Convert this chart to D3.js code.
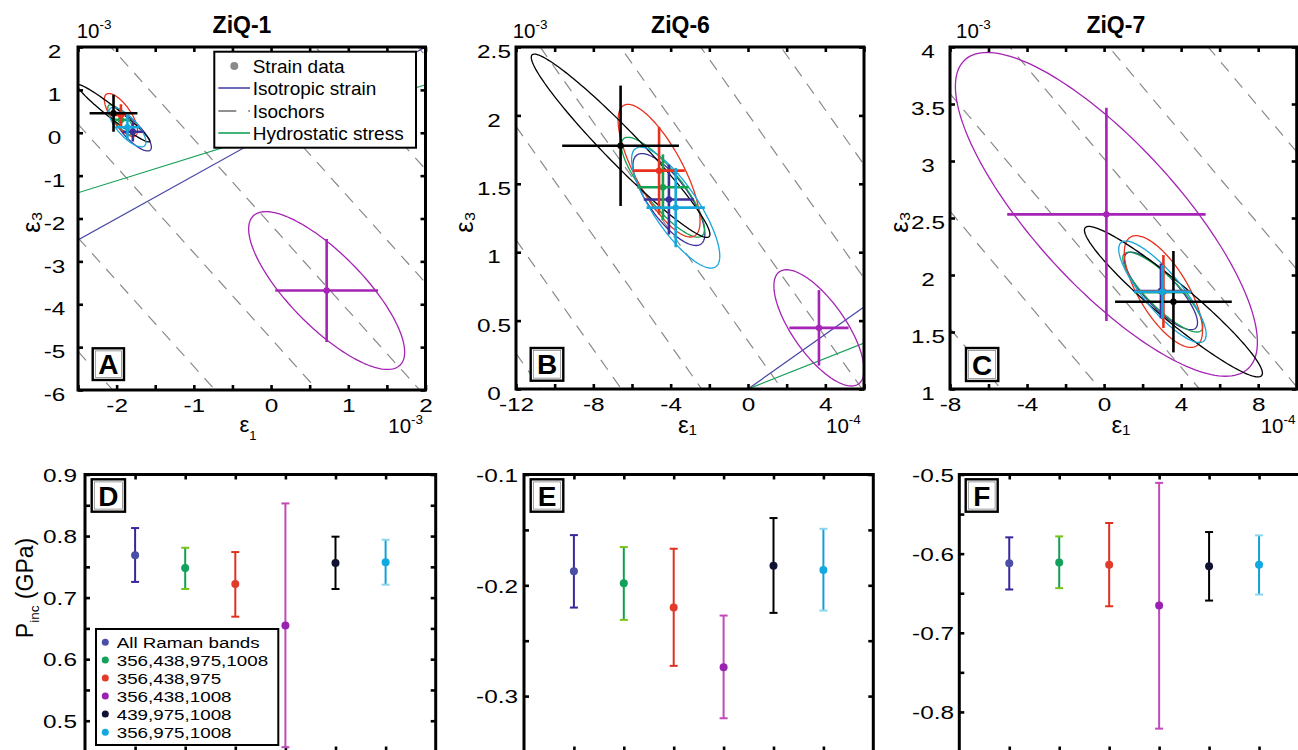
<!DOCTYPE html>
<html><head><meta charset="utf-8">
<script src="https://cdn.jsdelivr.net/npm/d3@7"></script>
<style>
body{margin:0;background:#fff}
svg{display:block}
text{font-family:"Liberation Sans",Arial,Helvetica,sans-serif;fill:#000}
</style>
</head><body>
<svg id="chart" width="1298" height="750"></svg>
<script>
// ===================== DATA =====================
const seriesNames = ["All Raman bands","356,438,975,1008","356,438,975","356,438,1008","439,975,1008","356,975,1008"];
const panelTitles = ["ZiQ-1","ZiQ-6","ZiQ-7"];
const panelLetters = ["A","B","C","D","E","F"];
const legendTopNames = ["Strain data","Isotropic strain","Isochors","Hydrostatic stress"];

// ---- Panel A (eps1 x1e-3, eps3 x1e-3)
const A_e1    = [-1.79, -1.944, -1.944, 0.72, -2.04, -1.86];
const A_e3    = [0.025, 0.30, 0.415, -3.68, 0.455, 0.13];
const A_e1Err = [0.13, 0.12, 0.10, 0.665, 0.31, 0.15];
const A_e3Err = [0.23, 0.20, 0.25, 1.20, 0.43, 0.30];
const A_ellX  = [0.24, 0.17, 0.215, 1.01, 0.47, 0.24];
const A_ellY  = [0.45, 0.35, 0.50, 1.84, 0.67, 0.46];
const A_rho   = [-0.80, -0.80, -0.72, -0.78, -0.97, -0.75];
const A_isochorC = [-10.1, -7.45, -4.8, -2.15, 0.5, 3.15, 5.8];

// ---- Panel B (eps1 x1e-4, eps3 x1e-3)
const B_e1    = [-4.09, -4.40, -4.60, 3.67, -6.59, -3.74];
const B_e3    = [1.385, 1.475, 1.596, 0.447, 1.778, 1.326];
const B_e1Err = [1.30, 1.33, 1.33, 1.53, 3.02, 1.51];
const B_e3Err = [0.255, 0.24, 0.32, 0.276, 0.44, 0.29];
const B_ellX  = [1.86, 2.15, 2.12, 2.33, 4.62, 2.28];
const B_ellY  = [0.336, 0.365, 0.485, 0.425, 0.67, 0.442];
const B_rho   = [-0.75, -0.84, -0.76, -0.72, -0.965, -0.80];
const B_isochorC = [-2.14, -1.31, -0.48, 0.35, 1.18, 2.01, 2.84, 3.67];

// ---- Panel C (eps1 x1e-4, eps3 x1e-3)
const C_e1    = [2.95, 3.05, 3.08, 0.12, 3.60, 3.03];
const C_e3    = [1.86, 1.85, 1.855, 2.532, 1.766, 1.853];
const C_e1Err = [1.40, 1.47, 1.45, 5.15, 3.03, 1.47];
const C_e3Err = [0.24, 0.235, 0.32, 0.936, 0.445, 0.235];
const C_ellX  = [1.90, 2.08, 2.03, 7.84, 4.62, 2.27];
const C_ellY  = [0.34, 0.35, 0.49, 1.42, 0.66, 0.445];
const C_rho   = [-0.82, -0.85, -0.70, -0.79, -0.95, -0.84];
const C_isochorC = [-0.07, 0.96, 1.99, 3.02, 4.05, 5.08];

// guide lines: eps3 = slope * eps1
const isotropicSlope = 1.0;
const hydrostaticSlope = 0.56;

// ---- Bottom panels: P_inc (GPa)
const D_val  = [0.769, 0.748, 0.722, 0.6545, 0.7564, 0.7575];
const D_high = [0.813, 0.781, 0.774, 0.853, 0.799, 0.794];
const D_low  = [0.7255, 0.714, 0.669, 0.457, 0.714, 0.721];
const E_val  = [-0.1874, -0.1982, -0.2201, -0.2739, -0.1823, -0.1862];
const E_high = [-0.1547, -0.1655, -0.1670, -0.2273, -0.1393, -0.1490];
const E_low  = [-0.2201, -0.2312, -0.2727, -0.3200, -0.2249, -0.2228];
const F_val  = [-0.6120, -0.6111, -0.6141, -0.6656, -0.6158, -0.6141];
const F_high = [-0.5794, -0.5782, -0.5613, -0.5106, -0.5727, -0.5769];
const F_low  = [-0.6453, -0.6436, -0.6665, -0.8211, -0.6593, -0.6517];
const categoryIdx = [1,2,3,4,5,6];

// ===================== STYLE =====================
const topColors   = ["#3c2f98","#16a052","#e8321e","#a523b5","#000000","#17a6dc"];
const barColors   = ["#36289a","#12a050","#e03020","#c04ab8","#000000","#12a0d8"];
const capColors   = ["#36289a","#7ac21a","#e03020","#c04ab8","#000000","#8ad6ee"];
const dotColors   = ["#4a4ea6","#12a05a","#e43a2a","#9a22b2","#111133","#12a8e0"];
const FONT_TICK = 19, STRETCH = 1.28;

const svg = d3.select("#chart");
const defs = svg.append("defs");

function stretchText(sel, f){
  sel.each(function(){
    const w = this.getComputedTextLength();
    if (w > 0){ this.setAttribute("textLength", w*f); this.setAttribute("lengthAdjust","spacingAndGlyphs"); }
  });
}
const fmtNum = d => String(+d.toFixed(3));

function drawAxes(g, x, y, o){
  const [x0,x1] = x.range(), [yb,yt] = y.range();
  const mk = (gen, tr) => { const a = g.append("g").attr("transform", tr).call(gen); a.select(".domain").remove(); return a; };
  const bx = mk(d3.axisBottom(x).tickValues(o.xTicks).tickSize(-5).tickFormat(d => o.xLab && o.xLab(d) ? fmtNum(d) : ""), `translate(0,${yb})`);
  mk(d3.axisTop(x).tickValues(o.xTicks).tickSize(-5).tickFormat(()=>""), `translate(0,${yt})`);
  const ly = mk(d3.axisLeft(y).tickValues(o.yTicks).tickSize(-5).tickFormat(d => o.yLab(d) ? fmtNum(d) : ""), `translate(${x0},0)`);
  mk(d3.axisRight(y).tickValues(o.yTicks).tickSize(-5).tickFormat(()=>""), `translate(${x1},0)`);
  g.selectAll(".tick line").attr("stroke","#000").attr("stroke-width",2.6);
  bx.selectAll("text").attr("y", 21.5).attr("dy", 0).attr("text-anchor","middle")
    .style("font-size", FONT_TICK+"px").style("font-family",'"Liberation Sans",Arial,sans-serif').attr("fill","#000");
  ly.selectAll("text").attr("x", -o.yLabOff).attr("dy", 0).attr("y", o.yLabDy).attr("text-anchor","middle")
    .style("font-size", FONT_TICK+"px").style("font-family",'"Liberation Sans",Arial,sans-serif').attr("fill","#000");
  stretchText(bx.selectAll("text"), STRETCH);
  stretchText(ly.selectAll("text"), STRETCH);
  g.append("rect").attr("x",x0).attr("y",yt).attr("width",x1-x0).attr("height",yb-yt)
    .attr("fill","none").attr("stroke","#000").attr("stroke-width",3);
}

function letterBox(g, lx, ly, w, h, letter){
  g.append("rect").attr("x",lx).attr("y",ly).attr("width",w).attr("height",h).attr("fill","#fff").attr("stroke","#000").attr("stroke-width",2.4);
  g.append("rect").attr("x",lx+2.6).attr("y",ly+2.6).attr("width",w-5.2).attr("height",h-5.2).attr("fill","none").attr("stroke","#777").attr("stroke-width",0.7);
  g.append("text").attr("x",lx+w/2).attr("y",ly+h/2+10).attr("text-anchor","middle")
    .style("font-size","28px").style("font-weight","bold").text(letter);
}

function expLabel(g, x, y, base, exp){
  const t = g.append("text").attr("x",x).attr("y",y).style("font-size","20.5px");
  t.append("tspan").text(base);
  t.append("tspan").attr("dy",-9).style("font-size","13.5px").text(exp);
}

// ===================== TOP PANELS =====================
const topPanels = [
  {id:"A", e1:A_e1, e3:A_e3, e1Err:A_e1Err, e3Err:A_e3Err, ellX:A_ellX, ellY:A_ellY, rho:A_rho, iso:A_isochorC,
   xDom:[-2.5,2], yDom:[-6,2], xr:[78,425.5], yr:[390,47], xExp:-3, yExp:-3,
   xTicks:d3.range(-2.5,2.01,0.5), yTicks:d3.range(-6,2.01,1), xLab:d=>Math.abs(d-Math.round(d))<1e-9, yLab:()=>true,
   yLabOff:23.5, title:panelTitles[0], titleX:242, topExp:["10","-3"], topExpX:76.7, botExp:["10","-3"], botExpX:388.3,
   yLabelX:33, xLabelX:248, sub:true, letterBox:[92.7,348.3,31.3,31.7]},
  {id:"B", e1:B_e1, e3:B_e3, e1Err:B_e1Err, e3Err:B_e3Err, ellX:B_ellX, ellY:B_ellY, rho:B_rho, iso:B_isochorC,
   xDom:[-12,6], yDom:[0,2.5], xr:[516,864], yr:[389,47], xExp:-4, yExp:-3,
   xTicks:d3.range(-12,6.01,2), yTicks:d3.range(0,2.51,0.5), xLab:d=>Math.round(d)%4===0, yLab:()=>true,
   yLabOff:22, title:panelTitles[1], titleX:680.5, topExp:["10","-3"], topExpX:512.7, botExp:["10","-4"], botExpX:826,
   yLabelX:466.5, xLabelX:687.5, sub:false, letterBox:[530.7,348,32.6,32.7]},
  {id:"C", e1:C_e1, e3:C_e3, e1Err:C_e1Err, e3Err:C_e3Err, ellX:C_ellX, ellY:C_ellY, rho:C_rho, iso:C_isochorC,
   xDom:[-8,10], yDom:[1,4], xr:[950,1296.7], yr:[389,47], xExp:-4, yExp:-3,
   xTicks:d3.range(-8,10.01,2), yTicks:d3.range(1,4.01,0.5), xLab:d=>Math.round(d)%4===0 && d<10, yLab:()=>true,
   yLabOff:22, title:panelTitles[2], titleX:1115.8, topExp:["10","-3"], topExpX:956, botExp:["10","-4"], botExpX:1260.7,
   yLabelX:901, xLabelX:1121, sub:false, letterBox:[966,348,32.3,33]}
];

topPanels.forEach((p, pi) => {
  const g = svg.append("g");
  const x = d3.scaleLinear().domain(p.xDom).range(p.xr);
  const y = d3.scaleLinear().domain(p.yDom).range(p.yr);
  const clipId = "clip"+p.id;
  defs.append("clipPath").attr("id",clipId).append("rect")
    .attr("x",p.xr[0]).attr("y",p.yr[1]).attr("width",p.xr[1]-p.xr[0]).attr("height",p.yr[0]-p.yr[1]);
  const pg = g.append("g").attr("clip-path",`url(#${clipId})`);
  const f = Math.pow(10, p.xExp - p.yExp);
  const fc = Math.pow(10, p.xExp + 3), fy = Math.pow(10, p.yExp + 3);

  // isochors: 2*eps1 + eps3 = c (units 1e-3)
  p.iso.forEach(c => {
    const pts = p.xDom.map(xv => [xv, (c - 2*xv*fc)/fy]);
    pg.append("line").attr("x1",x(pts[0][0])).attr("y1",y(pts[0][1])).attr("x2",x(pts[1][0])).attr("y2",y(pts[1][1]))
      .attr("stroke","#8a8a8a").attr("stroke-width",1.2).attr("stroke-dasharray","12,9");
  });
  [[isotropicSlope,"#4646a6"],[hydrostaticSlope,"#18a058"]].forEach(([s,col]) => {
    pg.append("line").attr("x1",x(p.xDom[0])).attr("y1",y(s*p.xDom[0]*f)).attr("x2",x(p.xDom[1])).attr("y2",y(s*p.xDom[1]*f))
      .attr("stroke",col).attr("stroke-width",1.2);
  });

  const line = d3.line().x(d=>x(d[0])).y(d=>y(d[1])).curve(d3.curveLinearClosed);
  p.e1.forEach((cx,i) => {
    const cy = p.e3[i], ex = p.ellX[i], ey = p.ellY[i], r = p.rho[i];
    const pts = d3.range(0, 2*Math.PI, Math.PI/90).map(t => [cx + ex*Math.cos(t), cy + ey*(r*Math.cos(t) + Math.sqrt(1-r*r)*Math.sin(t))]);
    pg.append("path").attr("d", line(pts)).attr("fill","none").attr("stroke",topColors[i]).attr("stroke-width",1.3);
  });
  p.e1.forEach((cx,i) => {
    const cy = p.e3[i];
    pg.append("line").attr("x1",x(cx-p.e1Err[i])).attr("x2",x(cx+p.e1Err[i])).attr("y1",y(cy)).attr("y2",y(cy))
      .attr("stroke",topColors[i]).attr("stroke-width",2.6);
    pg.append("line").attr("x1",x(cx)).attr("x2",x(cx)).attr("y1",y(cy-p.e3Err[i])).attr("y2",y(cy+p.e3Err[i]))
      .attr("stroke",topColors[i]).attr("stroke-width",2.6);
    pg.append("circle").attr("cx",x(cx)).attr("cy",y(cy)).attr("r",3.2).attr("fill",topColors[i]);
  });

  drawAxes(g, x, y, {xTicks:p.xTicks, yTicks:p.yTicks, xLab:p.xLab, yLab:p.yLab, yLabOff:p.yLabOff, yLabDy:10.7});
  g.append("text").attr("x",p.titleX).attr("y",33).attr("text-anchor","middle")
    .style("font-size","23px").style("font-weight","bold").text(p.title);
  expLabel(g, p.topExpX, 38.3, p.topExp[0], p.topExp[1]);
  expLabel(g, p.botExpX, 433.3, p.botExp[0], p.botExp[1]);
  g.append("text").attr("transform",`translate(${p.yLabelX+6.5},${222}) rotate(-90)`).attr("text-anchor","middle")
    .style("font-size","25px").text("ε₃");
  if (p.sub){
    const t = g.append("text").attr("x",p.xLabelX).attr("y",431.7).attr("text-anchor","middle").style("font-size","22px");
    t.append("tspan").text("ε");
    t.append("tspan").attr("dy",8).style("font-size","13px").text("1");
  } else {
    g.append("text").attr("x",p.xLabelX).attr("y",433).attr("text-anchor","middle").style("font-size","24px").text("ε₁");
  }
  const lb = p.letterBox;
  letterBox(g, lb[0], lb[1], lb[2], lb[3], panelLetters[pi]);

  if (pi === 0){
    const lg = g.append("g");
    lg.append("rect").attr("x",214.3).attr("y",51.7).attr("width",201.7).attr("height",96)
      .attr("fill","#fff").attr("stroke","#000").attr("stroke-width",2);
    const rows = [66, 88, 111, 133];
    lg.append("circle").attr("cx",234.3).attr("cy",rows[0]).attr("r",4).attr("fill","#8a8a8a");
    lg.append("line").attr("x1",218.3).attr("x2",250).attr("y1",rows[1]).attr("y2",rows[1]).attr("stroke","#4646a6").attr("stroke-width",1.6);
    lg.append("line").attr("x1",218.3).attr("x2",250).attr("y1",rows[2]).attr("y2",rows[2]).attr("stroke","#222").attr("stroke-width",1.2).attr("stroke-dasharray","18,12");
    lg.append("line").attr("x1",218.3).attr("x2",250).attr("y1",rows[3]).attr("y2",rows[3]).attr("stroke","#18a058").attr("stroke-width",1.6);
    legendTopNames.forEach((n,k) => {
      lg.append("text").attr("x",252.7).attr("y",rows[k]+6.7).style("font-size","19px").text(n);
    });
  }
});

// ===================== BOTTOM PANELS =====================
const botPanels = [
  {val:D_val, hi:D_high, lo:D_low, yDom:[0.45,0.9], xr:[85,435.7], yTicks:d3.range(0.45,0.901,0.05),
   yLab:d=>Math.abs(d*10-Math.round(d*10))<1e-6, yLabOff:25, letterBox:[91.7,479.3,33.3,32.4]},
  {val:E_val, hi:E_high, lo:E_low, yDom:[-0.35,-0.1], xr:[524,873.3], yTicks:d3.range(-0.35,-0.099,0.05),
   yLab:d=>Math.abs(d*10-Math.round(d*10))<1e-6, yLabOff:27, letterBox:[530.7,479.3,32.6,32.4]},
  {val:F_val, hi:F_high, lo:F_low, yDom:[-0.85,-0.5], xr:[959.3,1309], yTicks:d3.range(-0.85,-0.499,0.05),
   yLab:d=>Math.abs(d*10-Math.round(d*10))<1e-6, yLabOff:26.3, letterBox:[965.7,479.3,32,32.4]}
];

botPanels.forEach((p, pi) => {
  const g = svg.append("g");
  const x = d3.scaleLinear().domain([0,7]).range(p.xr);
  const y = d3.scaleLinear().domain(p.yDom).range([751.5, 474.5]);
  drawAxes(g, x, y, {xTicks:categoryIdx, yTicks:p.yTicks, xLab:null, yLab:p.yLab, yLabOff:p.yLabOff, yLabDy:6.8});
  categoryIdx.forEach((c,i) => {
    const cx = x(c);
    g.append("line").attr("x1",cx).attr("x2",cx).attr("y1",y(p.lo[i])).attr("y2",y(p.hi[i])).attr("stroke",barColors[i]).attr("stroke-width",2);
    [p.lo[i], p.hi[i]].forEach(v => g.append("line").attr("x1",cx-4).attr("x2",cx+4).attr("y1",y(v)).attr("y2",y(v))
      .attr("stroke",capColors[i]).attr("stroke-width",2));
    g.append("circle").attr("cx",cx).attr("cy",y(p.val[i])).attr("r",4).attr("fill",dotColors[i]);
  });
  const lb = p.letterBox;
  letterBox(g, lb[0], lb[1], lb[2], lb[3], panelLetters[3+pi]);

  if (pi === 0){
    const t = g.append("text").attr("transform","translate(33,588) rotate(-90)").attr("text-anchor","middle").style("font-size","23px");
    t.append("tspan").text("P");
    t.append("tspan").attr("dy",6).style("font-size","13.5px").text("inc");
    t.append("tspan").attr("dy",-6).text(" (GPa)");
    const lg = g.append("g");
    lg.append("rect").attr("x",96).attr("y",629).attr("width",182.3).attr("height",116).attr("fill","#fff").attr("stroke","#000").attr("stroke-width",2);
    const rows = [642.3, 660, 678, 696, 714, 732.3];
    seriesNames.forEach((n,i) => {
      lg.append("circle").attr("cx",105.3).attr("cy",rows[i]).attr("r",3.5).attr("fill",dotColors[i]);
      lg.append("text").attr("x",116.7).attr("y",rows[i]+5.6).style("font-size","15.4px").text(n);
    });
    stretchText(lg.selectAll("text"), 1.22);
  }
});
</script>
</body></html>
